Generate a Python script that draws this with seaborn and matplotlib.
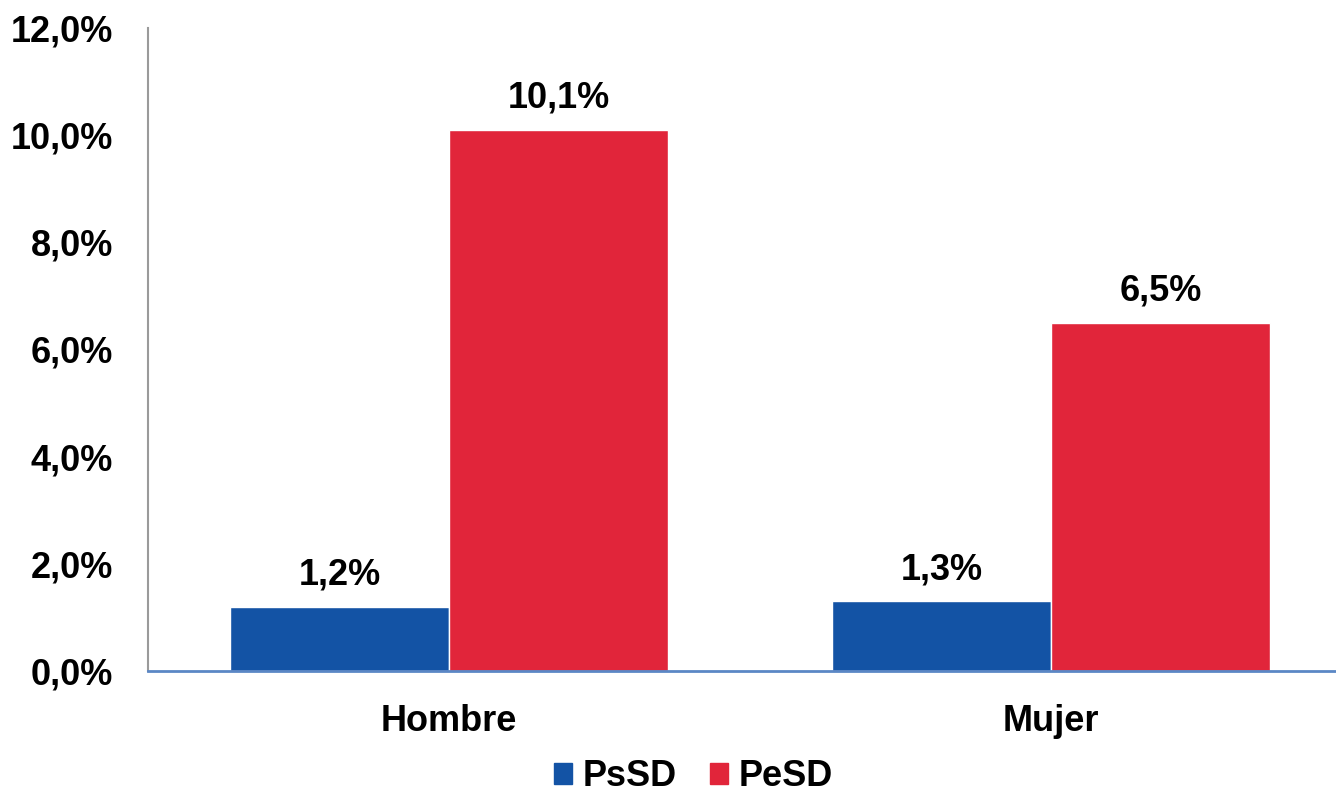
import pandas as pd
import matplotlib
matplotlib.use("Agg")
import matplotlib.pyplot as plt
import seaborn as sns
from matplotlib.patches import Patch
from matplotlib.ticker import FuncFormatter

# ==========================
# Datos
# ==========================
sexo = ["Hombre", "Mujer"]
series = ["PsSD", "PeSD"]
psd = [1.2, 1.3]
pesd = [10.1, 6.5]

colores = {"PsSD": "#1353A5", "PeSD": "#E1253A"}

df = pd.DataFrame({
    "sexo": sexo * 2,
    "serie": ["PsSD"] * len(sexo) + ["PeSD"] * len(sexo),
    "valor": psd + pesd,
})

sns.set_style("white")
plt.rcParams["font.family"] = ["Liberation Sans", "DejaVu Sans"]
plt.rcParams["font.weight"] = "bold"
plt.rcParams["text.color"] = "black"
plt.rcParams["xtick.color"] = "black"
plt.rcParams["ytick.color"] = "black"

fig = plt.figure(figsize=(13.36, 7.95), dpi=100)
ax = fig.add_axes([148 / 1336, 1 - 671 / 795, 1204 / 1336, 643 / 795])

sns.barplot(data=df, x="sexo", y="valor", hue="serie", hue_order=series,
            palette=colores, width=0.728, saturation=1, ax=ax)

ax.set_ylim(0, 12)
ax.set_xlim(-0.5, 1.5)
ax.set_yticks(range(0, 13, 2))
ax.yaxis.set_major_formatter(FuncFormatter(lambda v, p: f"{v:.1f}%".replace(".", ",")))
ax.tick_params(axis="y", length=0, pad=25, labelsize=26, labelcolor="black")
ax.tick_params(axis="x", length=0, pad=24, labelsize=26, labelcolor="black")
for lab in ax.get_xticklabels() + ax.get_yticklabels():
    lab.set_fontweight("bold")
ax.set_xlabel("")
ax.set_ylabel("")

for s in ["top", "right"]:
    ax.spines[s].set_visible(False)
ax.spines["left"].set_color("#9A9A9A")
ax.spines["left"].set_linewidth(1.5)
ax.spines["bottom"].set_color("#5B87C5")
ax.spines["bottom"].set_linewidth(2)

# etiquetas de datos
for cont in ax.containers:
    labels = [f"{b.get_height():.1f}%".replace(".", ",") for b in cont]
    ax.bar_label(cont, labels=labels, padding=10, fontsize=26, fontweight="bold",
                 color="black")

# leyenda abajo
if ax.get_legend() is not None:
    ax.get_legend().remove()
handles = [Patch(color=colores[s], label=s) for s in series]
fig.legend(handles=handles, loc="lower center", bbox_to_anchor=(0.519, -0.04),
           ncol=2, frameon=False, handlelength=0.5, handleheight=0.5,
           handletextpad=0.3, columnspacing=0.9, prop={"size": 26, "weight": "bold"})

fig.savefig("out.png", dpi=100)
plt.close()
